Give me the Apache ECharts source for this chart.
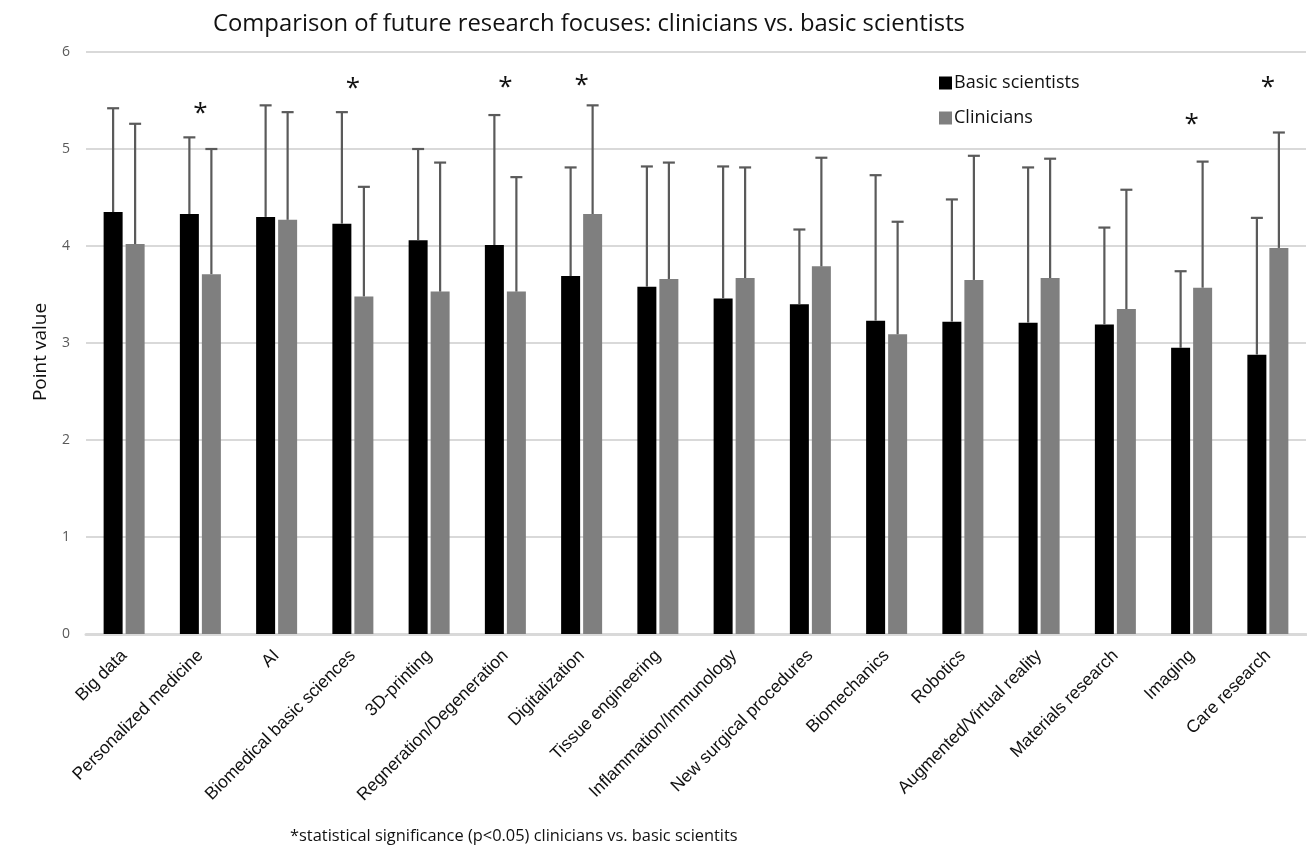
<!DOCTYPE html>
<html>
<head>
<meta charset="utf-8">
<title>Future research focuses</title>
<script src="https://cdn.jsdelivr.net/npm/echarts@6/dist/echarts.min.js"></script>
<style>
  html, body { margin: 0; padding: 0; background: #fff; }
  #chart { width: 1307px; height: 849px; }
</style>
</head>
<body>
<div id="chart"></div>
<script>
// Research topics on the x axis
const categories = [
  'Big data', 'Personalized medicine', 'AI', 'Biomedical basic sciences',
  '3D-printing', 'Regneration/Degeneration', 'Digitalization', 'Tissue engineering',
  'Inflammation/Immunology', 'New surgical procedures', 'Biomechanics', 'Robotics',
  'Augmented/Virtual reality', 'Materials research', 'Imaging', 'Care research'
];

// Mean point values
const basicMean = [4.35, 4.33, 4.30, 4.23, 4.06, 4.01, 3.69, 3.58, 3.46, 3.40, 3.23, 3.22, 3.21, 3.19, 2.95, 2.88];
const clinMean  = [4.02, 3.71, 4.27, 3.48, 3.53, 3.53, 4.33, 3.66, 3.67, 3.79, 3.09, 3.65, 3.67, 3.35, 3.57, 3.98];

// Upper end of the error bars (mean + SD)
const basicUpper = [5.42, 5.12, 5.45, 5.38, 5.00, 5.35, 4.81, 4.82, 4.82, 4.17, 4.73, 4.48, 4.81, 4.19, 3.74, 4.29];
const clinUpper  = [5.26, 5.00, 5.38, 4.61, 4.86, 4.71, 5.45, 4.86, 4.81, 4.91, 4.25, 4.93, 4.90, 4.58, 4.87, 5.17];

// Height of the significance asterisk (null = not significant)
const starLevel = [null, 5.37, null, 5.62, null, 5.63, 5.65, null, null, null, null, null, null, null, 5.25, 5.63];

const yTicks = [0, 1, 2, 3, 4, 5, 6];

const BAR_W = 19;
const BAR_GAP_PX = 3;
const HALF = (BAR_W + BAR_GAP_PX) / 2;
const ERR_COLOR = '#5a5a5a';

function errorBarRenderer(offset) {
  return function (params, api) {
    const top = api.coord([api.value(0), api.value(2)]);
    const base = api.coord([api.value(0), api.value(1)]);
    const x = top[0] + offset;
    const cap = 6;
    return {
      type: 'group',
      children: [
        { type: 'line', shape: { x1: x, y1: base[1], x2: x, y2: top[1] },
          style: { stroke: ERR_COLOR, lineWidth: 2.2 } },
        { type: 'line', shape: { x1: x - cap, y1: top[1], x2: x + cap, y2: top[1] },
          style: { stroke: ERR_COLOR, lineWidth: 2.2 } }
      ]
    };
  };
}

const chart = echarts.init(document.getElementById('chart'), null, { renderer: 'canvas' });

chart.setOption({
  backgroundColor: '#ffffff',
  animation: false,
  title: {
    text: 'Comparison of future research focuses: clinicians vs. basic scientists',
    left: 584,
    textAlign: 'center',
    top: 7,
    textStyle: { fontFamily: 'Open Sans', fontWeight: 'normal', fontSize: 23.8, color: '#111' }
  },
  legend: {
    orient: 'vertical',
    left: 939,
    top: 74,
    padding: 0,
    itemWidth: 13,
    itemHeight: 13,
    itemGap: 17,
    icon: 'rect',
    data: ['Basic scientists', 'Clinicians'],
    textStyle: { fontFamily: 'Open Sans', fontSize: 18, color: '#111', padding: [0, 0, 0, -3] }
  },
  grid: { left: 86, right: 1, top: 52, bottom: 215, containLabel: false },
  xAxis: {
    type: 'category',
    data: categories,
    axisTick: { show: false },
    axisLine: { lineStyle: { color: '#d9d9d9', width: 3 } },
    axisLabel: {
      interval: 0,
      rotate: 45,
      margin: 19,
      fontFamily: 'Liberation Sans',
      fontSize: 17.5,
      color: '#111'
    }
  },
  yAxis: {
    type: 'value',
    min: 0,
    max: 6,
    interval: 1,
    name: 'Point value',
    nameLocation: 'middle',
    nameGap: 36,
    nameRotate: 90,
    nameTextStyle: { fontFamily: 'Open Sans', fontSize: 19, color: '#111', padding: [0, 0, 0, -18] },
    axisLine: { show: false },
    axisTick: { show: false },
    axisLabel: {
      margin: 16,
      fontFamily: 'Open Sans',
      fontSize: 14,
      color: '#595959',
      formatter: v => (yTicks.indexOf(v) >= 0 ? String(v) : '')
    },
    splitLine: { lineStyle: { color: '#d9d9d9', width: 2 } }
  },
  series: [
    {
      name: 'Basic scientists',
      type: 'bar',
      data: basicMean,
      barWidth: BAR_W,
      barGap: (BAR_GAP_PX / BAR_W * 100).toFixed(1) + '%',
      itemStyle: { color: '#000000' }
    },
    {
      name: 'Clinicians',
      type: 'bar',
      data: clinMean,
      barWidth: BAR_W,
      itemStyle: { color: '#7f7f7f' }
    },
    {
      type: 'custom',
      name: 'err-basic',
      renderItem: errorBarRenderer(-HALF),
      data: basicMean.map((m, i) => [i, m, basicUpper[i]]),
      z: 5,
      silent: true
    },
    {
      type: 'custom',
      name: 'err-clin',
      renderItem: errorBarRenderer(HALF),
      data: clinMean.map((m, i) => [i, m, clinUpper[i]]),
      z: 5,
      silent: true
    },
    {
      type: 'custom',
      name: 'significance',
      renderItem: function (params, api) {
        const p = api.coord([api.value(0), api.value(1)]);
        return {
          type: 'text',
          style: {
            text: '*', x: p[0], y: p[1],
            align: 'center', verticalAlign: 'middle',
            fill: '#111', font: '26px "Open Sans"'
          }
        };
      },
      data: starLevel.map((v, i) => (v == null ? null : [i, v])).filter(d => d),
      z: 6,
      silent: true
    }
  ],
  graphic: [
    {
      type: 'text',
      left: 290,
      top: 828,
      style: {
        text: '*statistical significance (p<0.05) clinicians vs. basic scientits',
        font: '16.4px "Open Sans"',
        fill: '#111'
      }
    }
  ]
});
</script>
</body>
</html>
